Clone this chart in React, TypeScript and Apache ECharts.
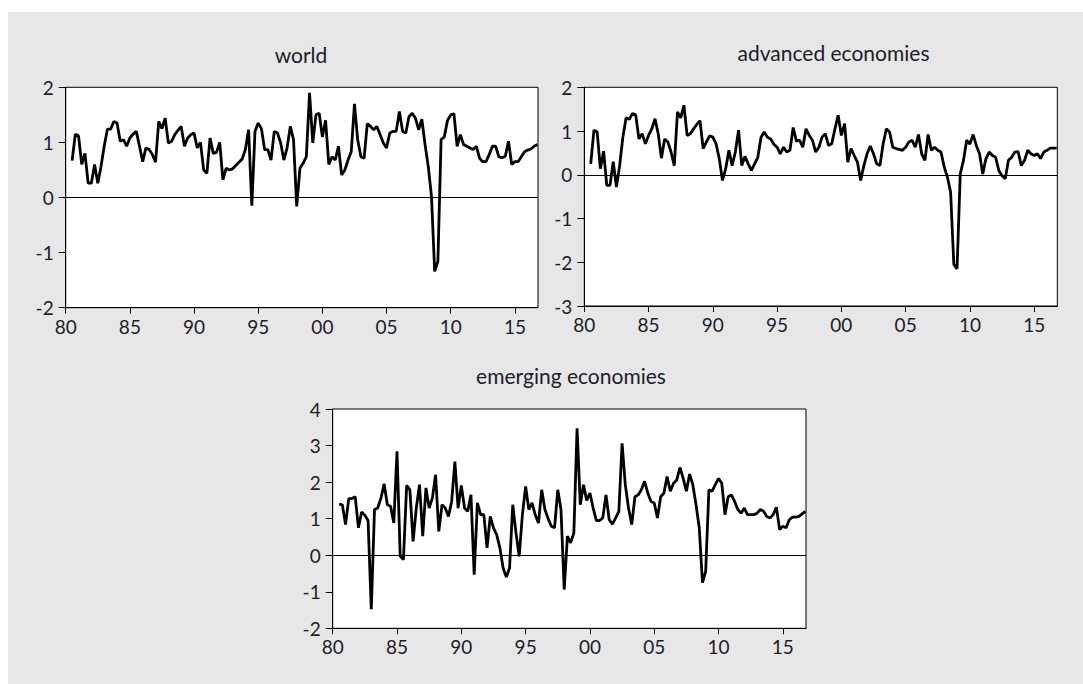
import React, { useEffect, useRef } from "react";
import * as echarts from "echarts";

const START_YEAR = 1980.5; // first quarterly observation (1980Q3)
const X_MIN = 1980;
const X_MAX = 2016.8;
const X_TICKS = [1980, 1985, 1990, 1995, 2000, 2005, 2010, 2015];

const TITLES = ["world", "advanced economies", "emerging economies"];

const worldValues = [
  0.67, 1.15,
  1.12, 0.6, 0.8, 0.26,
  0.26, 0.6, 0.26, 0.56,
  0.93, 1.24, 1.24, 1.38,
  1.35, 1.02, 1.05, 0.93,
  1.08, 1.15, 1.2, 0.93,
  0.65, 0.9, 0.87, 0.78,
  0.64, 1.38, 1.25, 1.44,
  0.99, 1.02, 1.14, 1.22,
  1.29, 0.93, 1.08, 1.14,
  1.17, 0.9, 1.0, 0.5,
  0.44, 1.08, 0.8, 0.82,
  1.0, 0.32, 0.53, 0.5,
  0.52, 0.58, 0.64, 0.7,
  0.87, 1.23, -0.15, 1.2,
  1.35, 1.25, 0.87, 0.87,
  0.68, 1.2, 1.17, 0.99,
  0.68, 0.9, 1.29, 1.05,
  -0.16, 0.53, 0.62, 0.74,
  1.9, 0.99, 1.5, 1.53,
  1.1, 1.4, 0.6, 0.74,
  0.68, 0.93, 0.41, 0.5,
  0.68, 0.83, 1.7, 1.05,
  0.74, 0.71, 1.34, 1.29,
  1.23, 1.29, 1.14, 0.99,
  0.9, 1.17, 1.2, 1.2,
  1.56, 1.2, 1.17, 1.47,
  1.53, 1.44, 1.23, 1.42,
  0.96, 0.56, 0.02, -1.34,
  -1.16, 1.05, 1.1, 1.4,
  1.5, 1.52, 0.93, 1.14,
  0.96, 0.93, 0.9, 0.87,
  0.93, 0.71, 0.65, 0.65,
  0.78, 0.93, 0.93, 0.74,
  0.72, 0.75, 1.02, 0.6,
  0.65, 0.65, 0.74, 0.83,
  0.86, 0.88, 0.93, 0.96,
];

const advancedValues = [
  0.25, 1.02,
  0.98, 0.14, 0.54, -0.24,
  -0.24, 0.3, -0.28, 0.21,
  0.86, 1.3, 1.27, 1.4,
  1.37, 0.82, 0.94, 0.71,
  0.9, 1.05, 1.28, 0.94,
  0.38, 0.82, 0.75, 0.52,
  0.21, 1.44, 1.3, 1.59,
  0.9, 0.94, 1.05, 1.15,
  1.24, 0.6, 0.75, 0.89,
  0.86, 0.71, 0.37, -0.13,
  0.14, 0.56, 0.21, 0.52,
  1.02, 0.21, 0.42, 0.25,
  0.1, 0.25, 0.4, 0.86,
  0.98, 0.86, 0.82, 0.7,
  0.63, 0.48, 0.63, 0.52,
  0.56, 1.08, 0.77, 0.79,
  0.63, 1.05, 0.9, 0.79,
  0.52, 0.63, 0.86, 0.94,
  0.67, 0.71, 1.05, 1.36,
  0.9, 1.17, 0.29, 0.6,
  0.44, 0.29, -0.13, 0.21,
  0.48, 0.66, 0.48, 0.25,
  0.21, 0.71, 1.05, 0.98,
  0.63, 0.6, 0.58, 0.56,
  0.63, 0.75, 0.79, 0.63,
  0.92, 0.48, 0.33, 0.92,
  0.56, 0.63, 0.56, 0.52,
  0.18, -0.05, -0.4, -2.05,
  -2.15, 0.02, 0.33, 0.79,
  0.7, 0.92, 0.67, 0.48,
  0.02, 0.37, 0.52, 0.44,
  0.4, 0.1, -0.02, -0.09,
  0.33, 0.4, 0.52, 0.53,
  0.21, 0.33, 0.56, 0.48,
  0.44, 0.48, 0.37, 0.52,
  0.56, 0.61, 0.61, 0.61,
];

const emergingValues = [
  1.4, 1.38,
  0.84, 1.55, 1.55, 1.6,
  0.75, 1.18, 1.09, 0.95,
  -1.48, 1.25, 1.29, 1.56,
  1.95, 1.38, 1.34, 0.88,
  2.84, -0.03, -0.12, 1.91,
  1.79, 0.38, 1.29, 1.93,
  0.52, 1.84, 1.29, 1.56,
  2.2, 0.65, 1.38, 1.29,
  1.06, 1.47, 2.56, 1.29,
  1.91, 1.29, 1.2, 1.65,
  -0.53, 1.43, 1.11, 1.11,
  0.2, 1.06, 0.75, 0.56,
  0.2, -0.35, -0.6, -0.35,
  1.38, 0.61, -0.03, 1.11,
  1.88, 1.25, 1.43, 1.1,
  0.88, 1.79, 1.25, 1.0,
  0.79, 0.75, 1.79, 1.25,
  -0.94, 0.52, 0.34, 0.61,
  3.47, 1.38, 1.93, 1.5,
  1.7, 1.29, 0.95, 0.95,
  1.02, 1.65, 0.97, 0.85,
  1.02, 1.2, 3.06, 1.93,
  1.29, 0.84, 1.6, 1.65,
  1.79, 2.02, 1.7, 1.47,
  1.43, 1.02, 1.6, 1.7,
  2.15, 1.75, 1.97, 2.06,
  2.4, 2.1, 1.75, 2.22,
  1.93, 1.38, 0.75, -0.75,
  -0.44, 1.79, 1.75, 1.93,
  2.1, 1.97, 1.11, 1.6,
  1.65, 1.47, 1.25, 1.15,
  1.29, 1.11, 1.11, 1.11,
  1.15, 1.25, 1.2, 1.06,
  1.02, 1.11, 1.31, 0.7,
  0.79, 0.75, 0.97, 1.04,
  1.04, 1.06, 1.13, 1.2,
];

const Y_RANGES = [
  { min: -2, max: 2 },
  { min: -3, max: 2 },
  { min: -2, max: 4 },
];

const toPairs = (vals: number[]) => vals.map((v, i) => [START_YEAR + i * 0.25, v]);

const FONT = "Lato, 'Open Sans', sans-serif";
const TEXT_COLOR = "#1c1c2a";

export default function App() {
  const ref = useRef<HTMLDivElement>(null);

  useEffect(() => {
    if (!ref.current) return;
    const chart = echarts.init(ref.current, null, { renderer: "svg" });

    const grids = [
      { left: 65.7, top: 87.3, width: 472.3, height: 220.4 },
      { left: 584.3, top: 87.3, width: 473, height: 218.7 },
      { left: 332.7, top: 409, width: 473.3, height: 219.3 },
    ];
    const titlePos = [
      [301, 54],
      [833.5, 52],
      [571, 375],
    ];
    const seriesVals = [worldValues, advancedValues, emergingValues];

    const option: any = {
      animation: false,
      backgroundColor: "#ffffff",
      graphic: [
        {
          type: "rect",
          shape: { x: 8, y: 12, width: 1075, height: 672 },
          style: { fill: "#e7e7e7" },
          z: -10,
          silent: true,
        },
        ...TITLES.map((t, i) => ({
          type: "text",
          x: titlePos[i][0],
          y: titlePos[i][1],
          style: {
            text: t,
            fill: TEXT_COLOR,
            font: `21px ${FONT}`,
            textAlign: "center",
            textVerticalAlign: "middle",
          },
          silent: true,
        })),
      ],
      grid: grids.map((g) => ({
        ...g,
        show: true,
        backgroundColor: "#ffffff",
        borderColor: "#000",
        borderWidth: 1,
        containLabel: false,
      })),
      xAxis: grids.map((_, i) => ({
        type: "value",
        gridIndex: i,
        min: X_MIN,
        max: X_MAX,
        interval: 5,
        axisLine: { show: true, onZero: false, lineStyle: { color: "#000", width: 1 } },
        axisTick: {
          show: true,
          inside: false,
          length: 6,
          customValues: X_TICKS,
          lineStyle: { color: "#000", width: 1 },
        },
        axisLabel: {
          customValues: X_TICKS,
          formatter: (v: number) => String(Math.round(v) % 100).padStart(2, "0"),
          color: TEXT_COLOR,
          fontFamily: FONT,
          fontSize: 19,
          margin: 9,
        },
        splitLine: { show: false },
      })),
      yAxis: grids.map((_, i) => ({
        type: "value",
        gridIndex: i,
        min: Y_RANGES[i].min,
        max: Y_RANGES[i].max,
        interval: 1,
        axisLine: { show: true, onZero: false, lineStyle: { color: "#000", width: 1 } },
        axisTick: { show: true, inside: false, length: 7, lineStyle: { color: "#000", width: 1 } },
        axisLabel: {
          color: TEXT_COLOR,
          fontFamily: FONT,
          fontSize: 19,
          margin: 12,
        },
        splitLine: { show: false },
      })),
      series: seriesVals.map((vals, i) => ({
        type: "line",
        xAxisIndex: i,
        yAxisIndex: i,
        data: toPairs(vals),
        showSymbol: false,
        symbol: "none",
        lineStyle: { color: "#000", width: 2.8 },
        z: 3,
        markLine: {
          silent: true,
          symbol: ["none", "none"],
          label: { show: false },
          lineStyle: { color: "#000", width: 1, type: "solid" },
          data: [{ yAxis: 0 }],
        },
      })),
    };

    chart.setOption(option);
    return () => chart.dispose();
  }, []);

  return (
    <div
      ref={ref}
      style={{ position: "absolute", left: 0, top: 0, width: 1083, height: 684 }}
    />
  );
}
